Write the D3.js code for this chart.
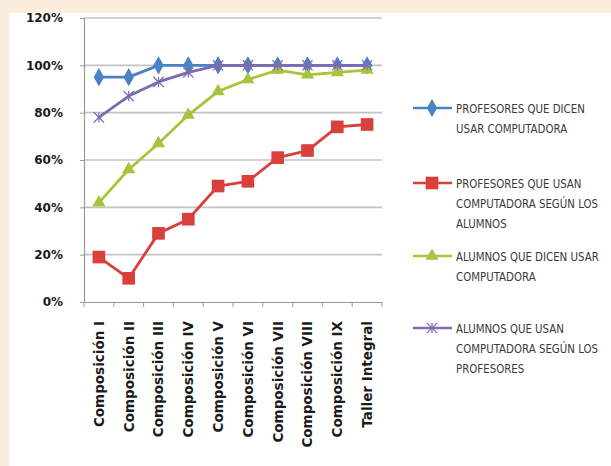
<!DOCTYPE html>
<html>
<head>
<meta charset="utf-8">
<script src="https://cdn.jsdelivr.net/npm/d3@7/dist/d3.min.js"></script>
<style>
  html, body { margin: 0; padding: 0; background: #fbeedd; }
  svg { display: block; }
</style>
</head>
<body>
<svg id="chart" width="611" height="466"></svg>
<script>
// Courses along the horizontal axis
const categories = [
  "Composición I", "Composición II", "Composición III", "Composición IV",
  "Composición V", "Composición VI", "Composición VII", "Composición VIII",
  "Composición IX", "Taller Integral"
];

// Percentages per course, one array per series
const profesoresDicen = [95, 95, 100, 100, 100, 100, 100, 100, 100, 100];
const profesoresSegunAlumnos = [19, 10, 29, 35, 49, 51, 61, 64, 74, 75];
const alumnosDicen = [42, 56, 67, 79, 89, 94, 98, 96, 97, 98];
const alumnosSegunProfesores = [78, 87, 93, 97, 100, 100, 100, 100, 100, 100];

const yTicks = [0, 20, 40, 60, 80, 100, 120];

const series = [
  { lines: ["PROFESORES QUE DICEN", "USAR COMPUTADORA"], values: profesoresDicen, color: "#4a82c4", marker: "diamond" },
  { lines: ["PROFESORES QUE USAN", "COMPUTADORA SEGÚN LOS", "ALUMNOS"], values: profesoresSegunAlumnos, color: "#d9403c", marker: "square" },
  { lines: ["ALUMNOS QUE DICEN USAR", "COMPUTADORA"], values: alumnosDicen, color: "#a6c43c", marker: "triangle" },
  { lines: ["ALUMNOS QUE USAN", "COMPUTADORA SEGÚN LOS", "PROFESORES"], values: alumnosSegunProfesores, color: "#7d6ab2", marker: "cross" }
];

const svg = d3.select("#chart");

// white panel over the beige page
svg.append("rect").attr("x", 9).attr("y", 13).attr("width", 602).attr("height", 453).attr("fill", "#ffffff");

const x = d3.scaleBand().domain(categories).range([84, 382]).padding(0);
const y = d3.scaleLinear().domain([0, 120]).range([302, 18]);
const cx = c => x(c) + x.bandwidth() / 2;

// horizontal gridlines
svg.append("g").selectAll("line").data(yTicks.filter(t => t > 0)).join("line")
  .attr("x1", 84).attr("x2", 382)
  .attr("y1", d => y(d)).attr("y2", d => y(d))
  .attr("stroke", "#c4c4c4").attr("stroke-width", 1.6);

// y axis
const yAxis = svg.append("g").attr("transform", "translate(84,0)")
  .call(d3.axisLeft(y).tickValues(yTicks).tickFormat(d => d + "%").tickSize(4).tickPadding(17));
yAxis.select(".domain").attr("stroke", "#9a9a9a").attr("stroke-width", 1.2);
yAxis.selectAll(".tick line").attr("stroke", "#9a9a9a");
yAxis.selectAll(".tick text")
  .attr("font-family", "DejaVu Sans, sans-serif").attr("font-weight", "bold")
  .attr("font-size", "12px").attr("fill", "#1a1a1a");

// x axis with ticks at band edges
const xAxis = svg.append("g").attr("transform", "translate(0,302)")
  .call(d3.axisBottom(x).tickSize(0).tickFormat(""));
xAxis.select(".domain").attr("stroke", "#9a9a9a").attr("stroke-width", 1.2);
svg.append("g").selectAll("line").data(categories.concat([null])).join("line")
  .attr("x1", (d, i) => 84 + i * x.bandwidth()).attr("x2", (d, i) => 84 + i * x.bandwidth())
  .attr("y1", 302).attr("y2", 307)
  .attr("stroke", "#9a9a9a").attr("stroke-width", 1);

// rotated category labels
svg.append("g").selectAll("text").data(categories).join("text")
  .attr("transform", d => `translate(${cx(d)},321) rotate(-90)`)
  .attr("text-anchor", "end").attr("dy", "0.36em")
  .attr("font-family", "DejaVu Sans, sans-serif").attr("font-weight", "bold")
  .attr("font-size", "13.5px").attr("fill", "#1a1a1a")
  .text(d => d);

// marker shapes
function drawMarker(g, type, color) {
  if (type === "diamond") {
    g.append("path").attr("d", d3.symbol(d3.symbolDiamond, 95)()).attr("fill", color);
  } else if (type === "square") {
    g.append("path").attr("d", d3.symbol(d3.symbolSquare, 160)()).attr("fill", color);
  } else if (type === "triangle") {
    g.append("path").attr("d", d3.symbol(d3.symbolTriangle, 75)()).attr("fill", color);
  } else {
    g.append("path").attr("d", d3.symbol(d3.symbolX, 70)())
      .attr("fill", "none").attr("stroke", color).attr("stroke-width", 1.2);
    g.append("path").attr("d", "M0,-5V5").attr("stroke", color).attr("stroke-width", 1.2);
  }
}

const line = d3.line().x((d, i) => cx(categories[i])).y(d => y(d));

// draw series (later series on top)
series.forEach(s => {
  svg.append("path").datum(s.values).attr("d", line)
    .attr("fill", "none").attr("stroke", s.color).attr("stroke-width", 2.8)
    .attr("stroke-linejoin", "round");
  s.values.forEach((v, i) => {
    const g = svg.append("g").attr("transform", `translate(${cx(categories[i])},${y(v)})`);
    drawMarker(g, s.marker, s.color);
  });
});

// legend
const legendY = [108, 183, 256, 328];
const legendTexts = [];
series.forEach((s, k) => {
  const g = svg.append("g").attr("transform", `translate(0,${legendY[k]})`);
  g.append("line").attr("x1", 413).attr("x2", 452).attr("y1", 0).attr("y2", 0)
    .attr("stroke", s.color).attr("stroke-width", 2.4);
  const m = g.append("g").attr("transform", "translate(432,0)");
  drawMarker(m, s.marker, s.color);
  const tg = g.append("g").attr("transform", "translate(456,0)");
  legendTexts.push(tg);
  s.lines.forEach((t, j) => {
    tg.append("text").attr("x", 0).attr("y", j * 20.5).attr("dy", "0.36em")
      .attr("font-family", "DejaVu Sans, sans-serif")
      .attr("font-size", "12.5px").attr("fill", "#3a3a3a")
      .text(t);
  });
});

// condense the legend lettering horizontally so the first line spans ~129px
const firstWidth = legendTexts[0].select("text").node().getComputedTextLength();
const squeeze = Math.min(1, 129 / firstWidth);
legendTexts.forEach(tg => tg.attr("transform", `translate(456,0) scale(${squeeze},1)`));
</script>
</body>
</html>
